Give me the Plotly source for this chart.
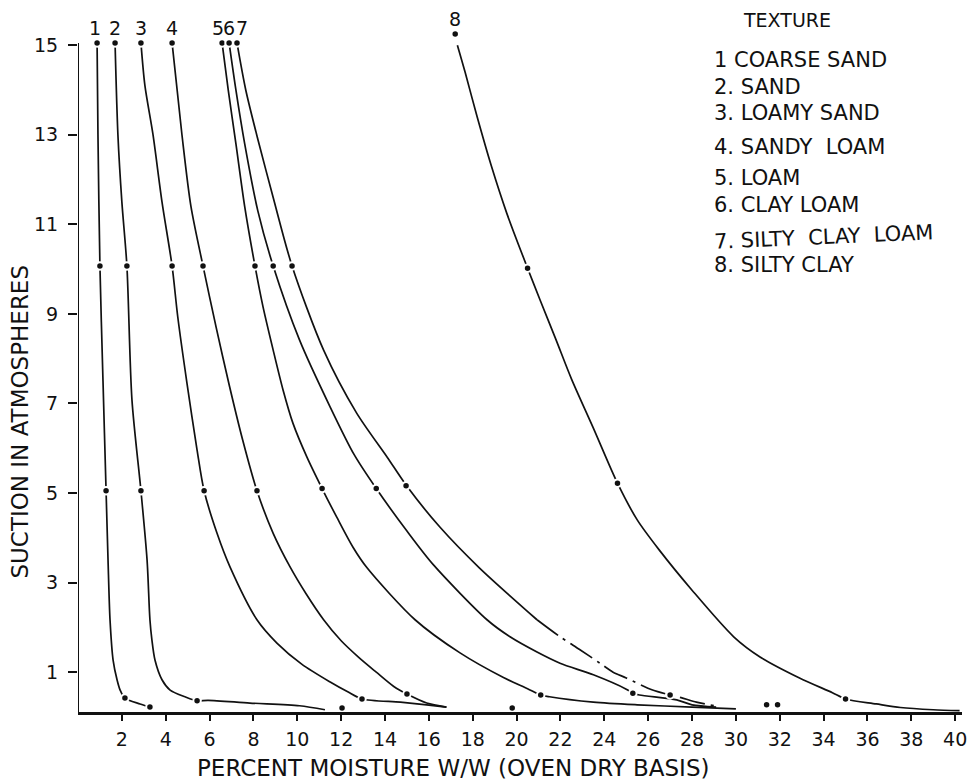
import plotly.graph_objects as go

# ---------------- data ----------------
x_tick_vals = list(range(2, 41, 2))
y_tick_vals = list(range(1, 16, 2))
curve_ids = ["1", "2", "3", "4", "5", "6", "7", "8"]
textures = ["COARSE SAND", "SAND", "LOAMY SAND", "SANDY  LOAM", "LOAM",
            "CLAY LOAM", "SILTY  CLAY  LOAM", "SILTY CLAY"]

c1_x = [0.87, 0.91, 1.0, 1.14, 1.28, 1.37, 1.46, 1.6, 1.78, 1.92, 2.14, 2.83, 3.28]
c1_y = [15.05, 13.0, 10.07, 7.5, 5.05, 3.5, 2.17, 1.27, 0.83, 0.6, 0.42, 0.29, 0.22]
c1_dot_x = [0.87, 1.0, 1.28, 2.14, 3.28]
c1_dot_y = [15.05, 10.07, 5.05, 0.42, 0.22]

c2_x = [1.69, 1.82, 2.0, 2.23, 2.46, 2.87, 3.15, 3.28, 3.37, 3.51, 3.83, 4.2, 4.88, 5.43, 5.93, 7.84, 10.1, 11.26]
c2_y = [15.05, 13.0, 11.5, 10.07, 7.08, 5.05, 3.5, 2.17, 1.72, 1.27, 0.83, 0.6, 0.45, 0.36, 0.37, 0.31, 0.25, 0.16]
c2_dot_x = [1.69, 2.23, 2.87, 5.43, 12.04]
c2_dot_y = [15.05, 10.07, 5.05, 0.36, 0.2]

c3_x = [2.87, 3.05, 3.42, 3.83, 4.29, 4.55, 4.97, 5.43, 5.75, 6.34, 6.93, 8.16, 9.07, 10.2, 11.5, 12.3, 12.95, 14.7, 15.9, 16.8]
c3_y = [15.05, 14.1, 13.0, 11.5, 10.07, 8.93, 7.45, 5.96, 5.05, 4.1, 3.35, 2.17, 1.65, 1.18, 0.78, 0.56, 0.40, 0.33, 0.27, 0.22]
c3_dot_x = [2.87, 4.29, 5.75, 12.95, 19.8]
c3_dot_y = [15.05, 10.07, 5.05, 0.40, 0.2]

c4_x = [4.29, 4.74, 5.15, 5.7, 6.3, 6.9, 7.5, 8.16, 8.9, 9.67, 10.4, 11.2, 12.0, 12.8, 13.6, 14.4, 15.0, 15.9, 16.8]
c4_y = [15.05, 13.0, 11.4, 10.07, 8.7, 7.4, 6.2, 5.05, 4.1, 3.35, 2.75, 2.17, 1.7, 1.33, 1.0, 0.68, 0.51, 0.31, 0.22]
c4_dot_x = [4.29, 5.7, 8.16, 15.0]
c4_dot_y = [15.05, 10.07, 5.05, 0.51]

c5_x = [6.57, 6.85, 7.2, 7.6, 8.07, 8.44, 8.9, 9.35, 9.8, 10.44, 11.13, 11.8, 12.54, 13.18, 15.37, 17.42, 19.4, 20.5, 21.1, 21.5, 23.5, 25.5, 28.0, 30.0]
c5_y = [15.05, 14.0, 12.8, 11.4, 10.07, 9.15, 8.19, 7.3, 6.56, 5.8, 5.1, 4.46, 3.79, 3.33, 2.17, 1.43, 0.88, 0.63, 0.49, 0.45, 0.33, 0.27, 0.22, 0.18]
c5_dot_x = [6.57, 8.07, 11.13, 21.1, 31.4]
c5_dot_y = [15.05, 10.07, 5.1, 0.49, 0.27]

c6_x = [6.89, 7.2, 7.6, 8.2, 8.9, 10.1, 11.5, 12.6, 13.6, 15.0, 16.2, 18.65, 19.7, 20.93, 21.98, 23.5, 25.0, 25.3, 25.6, 27.3, 28.0, 29.1]
c6_y = [15.05, 14.0, 12.8, 11.3, 10.07, 8.42, 6.92, 5.85, 5.1, 4.15, 3.4, 2.17, 1.79, 1.45, 1.2, 0.94, 0.62, 0.53, 0.49, 0.38, 0.27, 0.22]
c6_dot_x = [6.89, 8.9, 13.6, 25.3, 31.9]
c6_dot_y = [15.05, 10.07, 5.1, 0.53, 0.27]

c7_x = [7.25, 7.65, 8.2, 8.9, 9.76, 11.2, 12.7, 14.1, 15.0, 16.5, 18.3, 20.93, 21.98, 22.89, 23.8, 24.4, 25.0, 26.2, 27.0, 27.5, 28.2, 29.0]
c7_y = [15.05, 14.0, 12.9, 11.6, 10.07, 8.19, 6.79, 5.8, 5.15, 4.24, 3.33, 2.17, 1.79, 1.5, 1.2, 1.0, 0.87, 0.6, 0.49, 0.43, 0.33, 0.25]
c7_dot_x = [7.25, 9.76, 14.96, 27.0]
c7_dot_y = [15.05, 10.07, 5.16, 0.49]

c8_x = [17.3, 17.65, 18.2, 18.85, 19.55, 20.5, 21.07, 21.8, 22.5, 23.5, 24.6, 25.5, 26.5, 28.0, 29.9, 31.1, 32.9, 34.4, 35.0, 36.4, 37.5, 39.0, 40.2]
c8_y = [15.0, 14.4, 13.4, 12.3, 11.25, 10.02, 9.31, 8.42, 7.55, 6.45, 5.22, 4.4, 3.73, 2.83, 1.79, 1.34, 0.87, 0.54, 0.40, 0.29, 0.21, 0.16, 0.14]
c8_dot_x = [17.2, 20.5, 24.6, 35.0]
c8_dot_y = [15.25, 10.02, 5.22, 0.40]

curves = [
    (c1_x, c1_y, c1_dot_x, c1_dot_y),
    (c2_x, c2_y, c2_dot_x, c2_dot_y),
    (c3_x, c3_y, c3_dot_x, c3_dot_y),
    (c4_x, c4_y, c4_dot_x, c4_dot_y),
    (c5_x, c5_y, c5_dot_x, c5_dot_y),
    (c6_x, c6_y, c6_dot_x, c6_dot_y),
    (c7_x, c7_y, c7_dot_x, c7_dot_y),
    (c8_x, c8_y, c8_dot_x, c8_dot_y),
]

# ---------------- styling ----------------
FONT = "DejaVu Sans, Liberation Sans, sans-serif"
INK = "#111111"
label_xshift = [-2, 0, 0, 0, -4, 0, 5, 0]
legend_rows_y = [0.926, 0.888, 0.851, 0.803, 0.759, 0.720, 0.675, 0.635]
legend_angles = [0, 0, 0, 0, 0, 0, -2.5, 0]
# curve 7 is drawn broken (dash-dot) in its lower part, from this point index on
broken_from = {6: 11}

fig = go.Figure()

def add_line(xs, ys, dash="solid"):
    fig.add_trace(go.Scatter(
        x=xs, y=ys, mode="lines",
        line=dict(color=INK, width=1.7, shape="spline", smoothing=0.8, dash=dash),
        hoverinfo="skip", showlegend=False))

for i, (cx, cy, dx, dy) in enumerate(curves):
    if i in broken_from:
        k = broken_from[i]
        add_line(cx[:k + 1], cy[:k + 1])
        add_line(cx[k:], cy[k:], dash="26px,6px,3px,6px")
    else:
        add_line(cx, cy)

for i, (cx, cy, dx, dy) in enumerate(curves):
    fig.add_trace(go.Scatter(
        x=dx, y=dy, mode="markers", cliponaxis=False,
        marker=dict(color=INK, size=7.5, line=dict(color="white", width=2)),
        name=textures[i], showlegend=False))

annotations = []
for i, (cx, cy, dx, dy) in enumerate(curves):
    annotations.append(dict(
        x=dx[0], y=dy[0], xref="x", yref="y", text=curve_ids[i],
        showarrow=False, yanchor="bottom", xanchor="center",
        xshift=label_xshift[i], yshift=2,
        font=dict(family=FONT, size=19, color=INK)))

annotations.append(dict(
    x=0.802, y=0.983, xref="paper", yref="paper", text="TEXTURE",
    showarrow=False, xanchor="center", yanchor="middle",
    font=dict(family=FONT, size=19, color=INK)))
for i, t in enumerate(textures):
    prefix = curve_ids[i] + (" " if i == 0 else ". ")
    annotations.append(dict(
        x=0.717, y=legend_rows_y[i], xref="paper", yref="paper",
        text=prefix + t, showarrow=False, xanchor="left", yanchor="middle",
        textangle=legend_angles[i],
        font=dict(family=FONT, size=21, color=INK)))

annotations.append(dict(
    x=0.424, y=-0.0795, xref="paper", yref="paper",
    text="PERCENT MOISTURE W/W (OVEN DRY BASIS)", showarrow=False,
    xanchor="center", yanchor="middle",
    font=dict(family=FONT, size=23, color=INK)))
annotations.append(dict(
    x=-0.066, y=0.412, xref="paper", yref="paper",
    text="SUCTION IN ATMOSPHERES", showarrow=False, textangle=-90,
    xanchor="center", yanchor="middle",
    font=dict(family=FONT, size=23, color=INK)))

# page body adds an 8px offset, so the figure is 8px smaller than the window
fig.update_layout(
    width=970, height=776,
    margin=dict(l=70, r=16, t=0, b=72),
    paper_bgcolor="white", plot_bgcolor="white",
    annotations=annotations,
    shapes=[dict(type="line", xref="x", yref="y", x0=0, x1=0, y0=0.11, y1=15.05,
                 line=dict(color=INK, width=2))],
    xaxis=dict(range=[0, 40.31], tickvals=x_tick_vals, ticks="outside",
               ticklen=6, tickwidth=1.5, tickcolor=INK, showgrid=False,
               zeroline=False, showline=True, linecolor=INK, linewidth=2.5,
               ticklabelstandoff=2,
               tickfont=dict(family=FONT, size=19, color=INK)),
    yaxis=dict(range=[0.11, 15.83], tickvals=y_tick_vals, ticks="outside",
               ticklen=9, tickwidth=1.5, tickcolor=INK, showgrid=False,
               zeroline=False, showline=False, ticklabelstandoff=6,
               tickfont=dict(family=FONT, size=19, color=INK)),
)

fig.write_html("out.html")
